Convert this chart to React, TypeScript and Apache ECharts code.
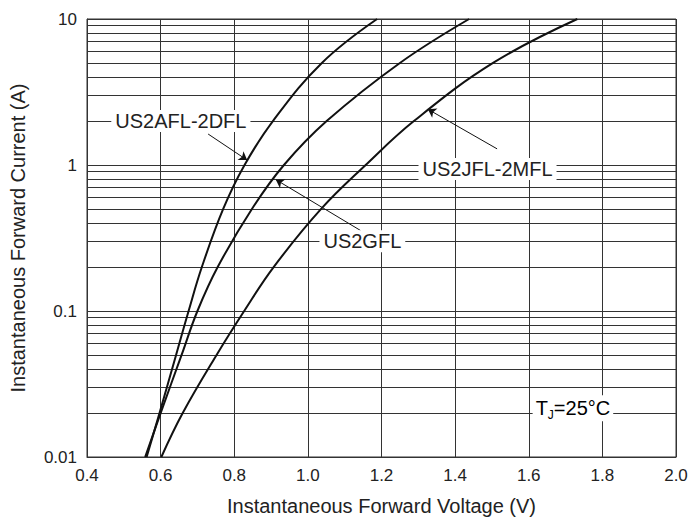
import { useEffect, useRef } from "react";
import * as echarts from "echarts";

// ---- axis ticks ----
const xMin = 0.4;
const xMax = 2.0;
const xStep = 0.2;
const yMin = 0.01;
const yMax = 10;
const minorGridValues = [
  0.02, 0.03, 0.04, 0.05, 0.06, 0.07, 0.08, 0.09,
  0.2, 0.3, 0.4, 0.5, 0.6, 0.7, 0.8, 0.9,
  2, 3, 4, 5, 6, 7, 8, 9,
];

// ---- forward current levels read (A) ----
const ampsLevels = [0.01, 0.02, 0.05, 0.1, 0.2, 0.5, 1, 2, 5, 10];

// ---- forward voltage at each level (V) ----
const aVolts = [0.562, 0.597, 0.642, 0.676, 0.712, 0.77, 0.828, 0.905, 1.038, 1.188]; // US2AFL-2DFL
const bVolts = [0.558, 0.6, 0.657, 0.7, 0.755, 0.848, 0.935, 1.051, 1.25, 1.438]; // US2GFL
const cVolts = [0.602, 0.66, 0.752, 0.827, 0.907, 1.036, 1.157, 1.288, 1.503, 1.732]; // US2JFL-2MFL

// ---- annotations (data units) ----
const labelTexts = ["US2AFL-2DFL", "US2GFL", "US2JFL-2MFL"];
const labelVolts = [0.655, 1.148, 1.488];
const labelAmps = [2.0, 0.3, 0.94];
const arrowTail = [[0.729, 1.63], [1.143, 0.356], [1.514, 1.29]];
const arrowTip = [[0.835, 1.08], [0.913, 0.794], [1.326, 2.41]];
const tempLabelAt = [1.72, 0.0216];

const FONT = '"Liberation Sans", Arial, Helvetica, sans-serif';
const INK = "#111";
const GRID = "#333";

const zip = (xs: number[], ys: number[]) => xs.map((x, i) => [x, ys[i]]);

export default function App() {
  const ref = useRef<HTMLDivElement>(null);
  useEffect(() => {
    if (!ref.current) return;
    const chart = echarts.init(ref.current, null, { renderer: "svg" });
    const curve = (name: string, data: number[][], idx: number) => ({
      name,
      type: "line",
      data,
      showSymbol: false,
      smooth: 0.4,
      lineStyle: { color: INK, width: 2 },
      z: 5,
      markLine: {
        silent: true,
        symbol: ["none", "arrow"],
        symbolSize: 8,
        label: { show: false },
        lineStyle: { color: INK, width: 1, type: "solid" },
        data: [[{ coord: arrowTail[idx] }, { coord: arrowTip[idx] }]],
      },
    });
    const option: any = {
      animation: false,
      backgroundColor: "#fff",
      grid: {
        left: 86,
        right: 16,
        top: 19,
        bottom: 62,
        show: true,
        borderColor: GRID,
        borderWidth: 1,
        backgroundColor: "transparent",
      },
      xAxis: {
        type: "value",
        min: xMin,
        max: xMax,
        interval: xStep,
        name: "Instantaneous Forward Voltage (V)",
        nameLocation: "middle",
        nameGap: 39,
        nameTextStyle: { fontFamily: FONT, fontSize: 20, color: "#222" },
        axisLine: { show: true, lineStyle: { color: GRID, width: 1 } },
        axisTick: { show: false },
        axisLabel: {
          fontFamily: FONT,
          fontSize: 17,
          color: "#222",
          margin: 10,
          formatter: (v: number) => v.toFixed(1),
        },
        splitLine: { show: true, lineStyle: { color: GRID, width: 1 } },
      },
      yAxis: {
        type: "log",
        logBase: 10,
        min: yMin,
        max: yMax,
        name: "Instantaneous Forward Current (A)",
        nameLocation: "middle",
        nameGap: 59,
        nameTextStyle: { fontFamily: FONT, fontSize: 20, color: "#222" },
        axisLine: { show: true, lineStyle: { color: GRID, width: 1 } },
        axisTick: { show: false },
        axisLabel: {
          fontFamily: FONT,
          fontSize: 17,
          color: "#222",
          margin: 10,
          formatter: (v: number) => String(Number(v.toPrecision(3))),
        },
        splitLine: { show: true, lineStyle: { color: GRID, width: 1 } },
      },
      series: [
        {
          name: "minor-grid",
          type: "line",
          data: [],
          z: 1,
          markLine: {
            silent: true,
            symbol: "none",
            label: { show: false },
            lineStyle: { color: GRID, width: 1, type: "solid" },
            data: minorGridValues.map((v) => ({ yAxis: v })),
          },
        },
        curve("US2AFL-2DFL", zip(aVolts, ampsLevels), 0),
        curve("US2GFL", zip(bVolts, ampsLevels), 1),
        curve("US2JFL-2MFL", zip(cVolts, ampsLevels), 2),
      ],
    };
    chart.setOption(option);

    const px = (v: number, i: number) =>
      chart.convertToPixel({ gridIndex: 0 }, [v, i]) as number[];
    const graphics: any[] = labelTexts.map((t, k) => {
      const [x, y] = px(labelVolts[k], labelAmps[k]);
      return {
        type: "text",
        x,
        y,
        z: 50,
        style: {
          text: t,
          font: `20px ${FONT}`,
          fill: "#222",
          align: "center",
          verticalAlign: "middle",
          backgroundColor: "#fff",
          padding: [1, 4],
        },
      };
    });
    const [tx, ty] = px(tempLabelAt[0], tempLabelAt[1]);
    graphics.push({
      type: "text",
      x: tx,
      y: ty,
      z: 50,
      style: {
        text: "{t|T}{s|J}{t|=25°C}",
        align: "center",
        verticalAlign: "middle",
        backgroundColor: "#fff",
        padding: [0, 3],
        rich: {
          t: { fontFamily: FONT, fontSize: 20, lineHeight: 26, color: "#222" },
          s: { fontFamily: FONT, fontSize: 12, lineHeight: 12, verticalAlign: "bottom", color: "#222" },
        },
      },
    });
    chart.setOption({ graphic: graphics });

    return () => chart.dispose();
  }, []);
  return (
    <div
      ref={ref}
      style={{ position: "fixed", left: 0, top: 0, width: 692, height: 521, background: "#fff" }}
    />
  );
}
